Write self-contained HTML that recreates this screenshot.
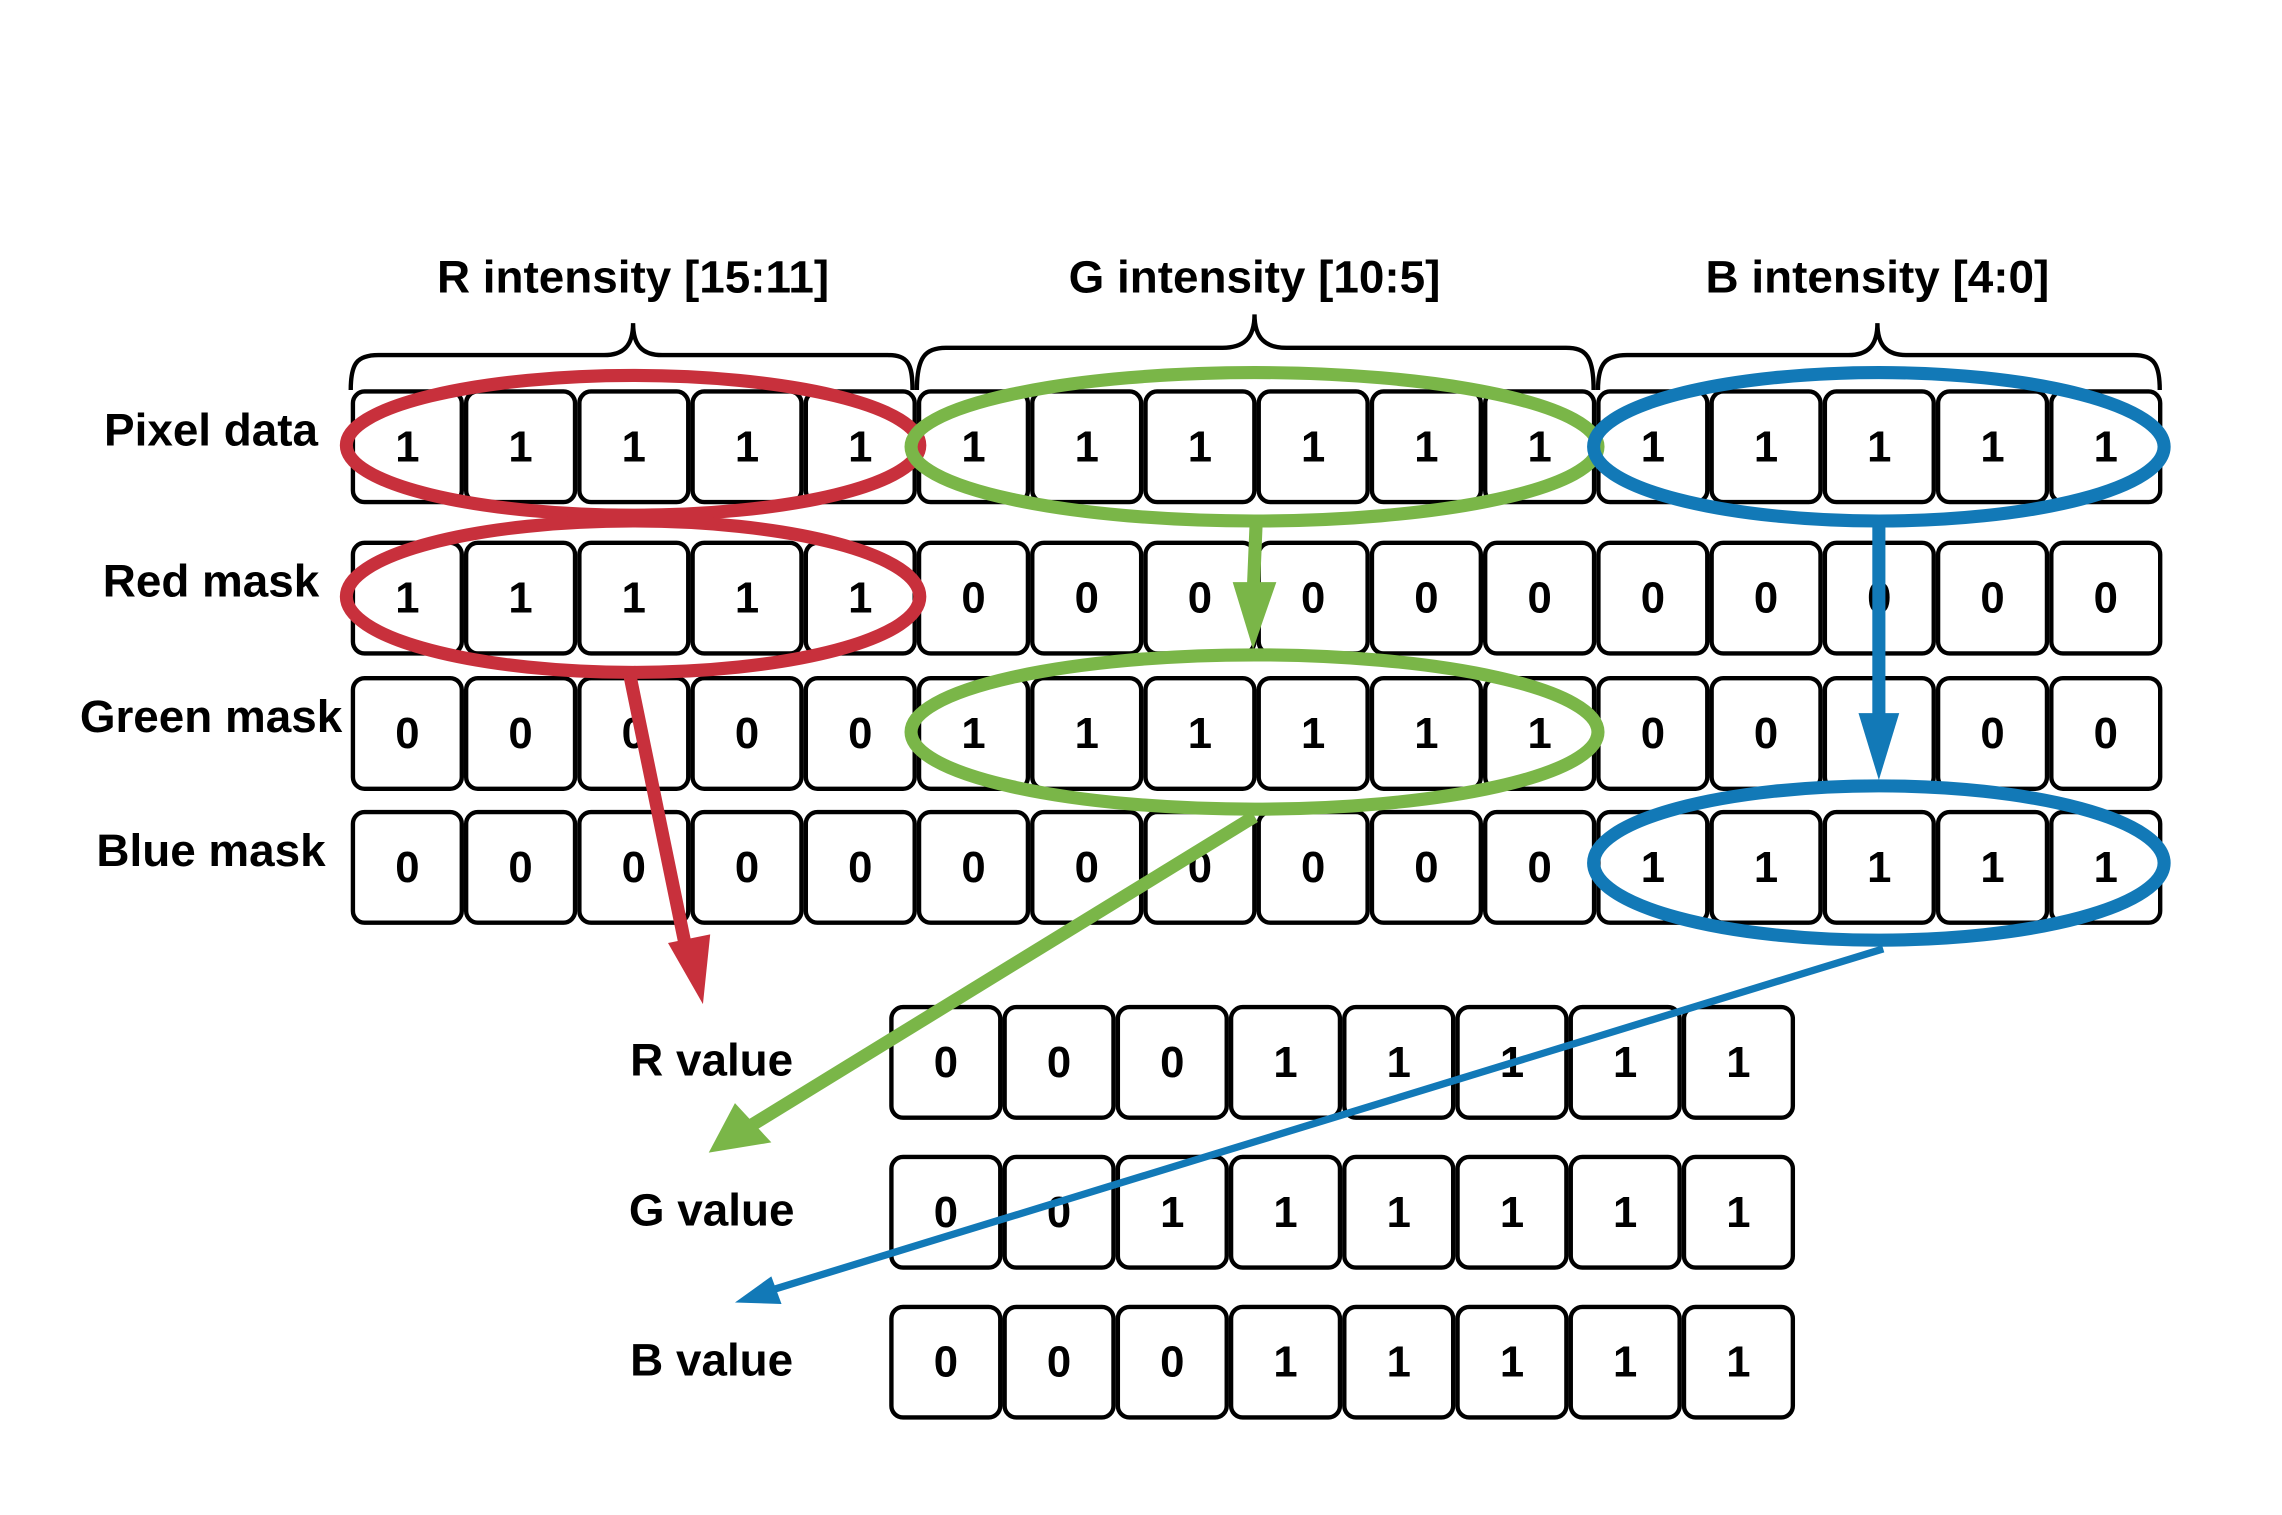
<!DOCTYPE html>
<html><head><meta charset="utf-8"><style>
html,body{margin:0;padding:0;background:#fff}
svg{display:block}
text{font-family:"Liberation Sans",Arial,sans-serif;font-weight:bold;fill:#000}
</style></head><body>
<svg id="chart" width="2282" height="1515" viewBox="0 0 1568 1041" preserveAspectRatio="none" xmlns="http://www.w3.org/2000/svg">
<g id="braces" fill="none" stroke="#000" stroke-width="3">
<path d="M241,268 C241,250 245,244 260,244 L415,244 C428,244 435,238 435,222 C435,238 442,244 455,244 L610,244 C624,244 627,250 627,268"/>
<path d="M630,268 C630,245 636,239 650,239 L840,239 C854,239 862,233 862,216 C862,233 870,239 884,239 L1076,239 C1090,239 1095,245 1095,268"/>
<path d="M1098,268 C1098,250 1103,244 1118,244 L1270,244 C1283,244 1290,238 1290,222 C1290,238 1297,244 1310,244 L1466,244 C1480,244 1484,250 1484,268"/>
</g>
<text x="435" y="201" font-size="31.5" text-anchor="middle">R intensity [15:11]</text>
<text x="862" y="201" font-size="31.5" text-anchor="middle">G intensity [10:5]</text>
<text x="1290" y="201" font-size="31.5" text-anchor="middle">B intensity [4:0]</text>
<g id="cells"></g>
<g id="overlays" fill="none">
<ellipse cx="435" cy="306" rx="197" ry="48" stroke="#c8303c" stroke-width="9"/>
<ellipse cx="435" cy="410" rx="197" ry="52" stroke="#c8303c" stroke-width="9"/>
<ellipse cx="862" cy="307" rx="236" ry="51" stroke="#7ab648" stroke-width="9"/>
<ellipse cx="862" cy="503" rx="236" ry="53" stroke="#7ab648" stroke-width="9"/>
<ellipse cx="1291" cy="307" rx="196" ry="51" stroke="#1279b7" stroke-width="9"/>
<ellipse cx="1291" cy="593" rx="196" ry="53" stroke="#1279b7" stroke-width="9"/>
<line x1="433" y1="465" x2="472" y2="655" stroke="#c8303c" stroke-width="9"/>
<polygon points="459,648 488,642 483,690" fill="#c8303c"/>
<line x1="863" y1="362" x2="861" y2="410" stroke="#7ab648" stroke-width="9"/>
<polygon points="847,400 877,400 861,446" fill="#7ab648"/>
<line x1="862" y1="561" x2="515" y2="774" stroke="#7ab648" stroke-width="9"/>
<polygon points="505,758 530,785 487,792" fill="#7ab648"/>
<line x1="1291" y1="362" x2="1291" y2="495" stroke="#1279b7" stroke-width="9"/>
<polygon points="1277,490 1305,490 1291,536" fill="#1279b7"/>
<line x1="1294" y1="652" x2="525" y2="888" stroke="#1279b7" stroke-width="5"/>
<polygon points="530,877 537,896 505,895" fill="#1279b7"/>
</g>
</svg>
<script>
const rowLabels = ["Pixel data","Red mask","Green mask","Blue mask"];
const rowBits = [
"1111111111111111",
"1111100000000000",
"0000011111100000",
"0000000000011111"];
const outLabels = ["R value","G value","B value"];
const outBits = ["00011111","00111111","00011111"];
const NS="http://www.w3.org/2000/svg";
const g=document.getElementById('cells');
const CW=77.8;
function cell(x,y,bit,name){
  const r=document.createElementNS(NS,'rect');
  r.setAttribute('x',x+1.5);r.setAttribute('y',y);r.setAttribute('width',CW-3);r.setAttribute('height',76);
  r.setAttribute('rx',8);r.setAttribute('fill','#fff');r.setAttribute('stroke','#000');r.setAttribute('stroke-width',3);
  
  
  g.appendChild(r);
  const t=document.createElementNS(NS,'text');
  t.setAttribute('x',x+CW/2);t.setAttribute('y',y+48);t.setAttribute('font-size',30);t.setAttribute('text-anchor','middle');
  t.textContent=bit;
  
  
  g.appendChild(t);
}
const rowY=[269,373,466,558];
rowLabels.forEach((lab,i)=>{
  const t=document.createElementNS(NS,'text');
  t.setAttribute('x',145);t.setAttribute('y',rowY[i]+37);t.setAttribute('font-size',31.5);t.setAttribute('text-anchor','middle');
  t.textContent=lab;
  
  
  g.appendChild(t);
  rowBits[i].split('').forEach((b,j)=>cell(241+j*CW,rowY[i],b,'bit-cell'));
});
const outY=[692,795,898];
outLabels.forEach((lab,i)=>{
  const t=document.createElementNS(NS,'text');
  t.setAttribute('x',489);t.setAttribute('y',outY[i]+47);t.setAttribute('font-size',31.5);t.setAttribute('text-anchor','middle');
  t.textContent=lab;
  
  
  g.appendChild(t);
  outBits[i].split('').forEach((b,j)=>cell(611+j*CW,outY[i],b,'value-cell'));
});
</script>
</body></html>
